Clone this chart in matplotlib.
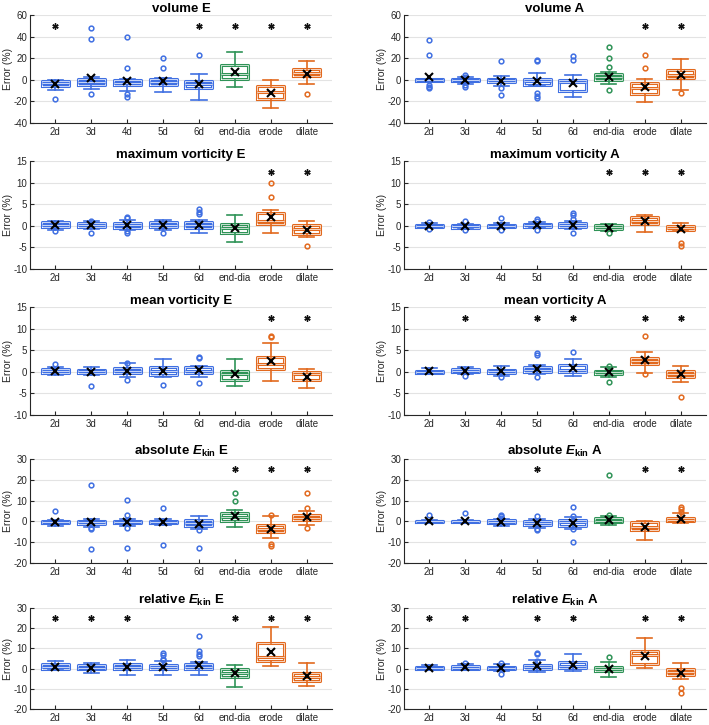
import matplotlib
matplotlib.use('Agg')
import matplotlib.pyplot as plt
import matplotlib.patheffects as pe

plt.rcParams['font.family'] = ['Liberation Sans', 'DejaVu Sans']
plt.rcParams['axes.unicode_minus'] = False
plt.rcParams['mathtext.fontset'] = 'custom'
plt.rcParams['mathtext.rm'] = 'Liberation Sans:bold'
plt.rcParams['mathtext.it'] = 'Liberation Sans:italic:bold'
plt.rcParams['mathtext.bf'] = 'Liberation Sans:bold'

cats = ['2d', '3d', '4d', '5d', '6d', 'end-dia', 'erode', 'dilate']
groups = ['b', 'b', 'b', 'b', 'b', 'g', 'o', 'o']

# each entry: (whisker low, q1, median, q3, whisker high, mean)
volE_stats = [(-9, -5.5, -2.8, -1, 0, -3.5), (-8.6, -4.6, -2.5, 0.6, 2.8, 1.5),
              (-10.7, -5, -3, -0.3, 1, -1), (-11.6, -4.9, -2.5, 0.6, 1.5, -1.5),
              (-18.4, -8, -3.5, -1, 5.2, -4), (-7, 1.2, 5.8, 13.8, 25.8, 7),
              (-26, -17.8, -11, -5.8, 0, -12), (-4.3, 3.4, 6.7, 9.8, 17, 5.5)]
volE_out = [[-17.5], [47.5, 37.5, -13.5], [40, 11, -13.5, -16], [20, 10.5], [22.5], [], [], [-13]]
volE_sig = [1, 0, 0, 0, 1, 1, 1, 1]

volA_stats = [(-2, -1, 0, 0.3, 0.8, 2.5), (-4, -1.5, -0.5, 0.5, 3, -0.5),
              (-6, -2.5, -0.5, 1.2, 3.5, -1), (-5.5, -5, -1.5, 1, 6, -1.5),
              (-16, -10, -2, -0.5, 4, -3), (-3.5, 0, 2.5, 5, 7.5, 3),
              (-21, -13, -7.5, -3, 1, -6.5), (-9.5, 1.5, 4.5, 9.5, 19.5, 4.5)]
volA_out = [[36.5, 22.5, -5, -7, -7.5], [4, 3, -5, -7], [17, -8, -14], [18, 17, -12, -15, -17],
            [22, 18], [30, 20, 12, -9], [23, 11], [-12]]
volA_sig = [0, 0, 0, 0, 0, 0, 1, 1]

maxvE_stats = [(-1, -0.2, 0.3, 0.8, 1.2, 0.2), (-0.8, -0.2, 0.2, 0.6, 1, 0.1),
               (-1, -0.4, 0.2, 0.7, 1.4, 0.1), (-1, -0.3, 0.3, 0.9, 1.4, 0.2),
               (-1.6, -0.5, 0.2, 0.8, 1.4, 0.2), (-3.7, -1.6, -0.5, 0.5, 2.5, -0.5),
               (-1.6, 0.5, 1.1, 2.9, 3.7, 2), (-2.5, -1.8, -0.8, 0.1, 1.1, -0.9)]
maxvE_out = [[-1.3], [1.2, -1.6], [2, 1.7, -1.3, -1.7], [-1.7], [3.8, 3.2, 2.7], [], [9.8, 6.6], [-4.7]]
maxvE_sig = [0, 0, 0, 0, 0, 0, 1, 1]

maxvA_stats = [(-0.4, -0.2, 0, 0.2, 0.6, 0), (-0.7, -0.4, -0.1, 0.1, 0.5, -0.1),
               (-0.5, -0.2, 0, 0.3, 0.6, 0), (-0.6, -0.3, 0.1, 0.4, 0.8, 0.1),
               (-0.8, -0.3, 0.2, 0.6, 1, 0.3), (-1.3, -0.8, -0.3, 0.2, 0.5, -0.4),
               (-1.4, 0.4, 1.2, 2, 2.6, 1.1), (-1.2, -1, -0.5, 0, 0.6, -0.7)]
maxvA_out = [[0.9, -0.7], [1, -0.9], [1.8, -1], [1.5, 1, -1], [2.9, 2.5, 1.6, -1.6], [-1.7], [], [-4, -4.6]]
maxvA_sig = [0, 0, 0, 0, 0, 1, 1, 1]

meanvE_stats = [(-0.8, -0.2, 0.2, 0.6, 1.1, 0.2), (-0.8, -0.3, 0.1, 0.4, 1.2, 0),
                (-1.2, -0.2, 0.3, 0.9, 2, 0.3), (-1.1, -0.7, 0.1, 1.2, 2.9, 0.2),
                (-1.3, -0.2, 0.3, 1.1, 1.3, 0.4), (-3.4, -1.8, -0.5, 0.3, 3, -0.5),
                (-2.2, 0.7, 1.7, 3.5, 6.7, 2.4), (-3.8, -2, -0.5, -0.1, 0.7, -1.2)]
meanvE_out = [[1.9], [-3.4], [2.1, -1.8], [-3.1], [3.4, 3.1, -2.7], [], [8.3, 8], []]
meanvE_sig = [0, 0, 0, 0, 0, 0, 1, 1]

meanvA_stats = [(-0.6, -0.3, 0, 0.3, 0.9, 0.1), (-0.5, 0, 0.3, 0.6, 1.2, 0.3),
                (-0.9, -0.3, 0.1, 0.4, 1.3, 0.1), (-0.6, 0, 0.5, 1, 1.6, 0.7),
                (-1, 0, 0.5, 1.5, 3, 0.9), (-1.2, -0.5, -0.1, 0.3, 1, -0.1),
                (-0.2, 1.8, 2.5, 3.3, 4.6, 2.7), (-2.4, -1.1, -0.4, 0.2, 1.4, -0.6)]
meanvA_out = [[], [-0.9], [-1.3], [4.3, 4, -1.1], [4.5], [1.3, -2.4], [8.4, -0.5], [-5.8]]
meanvA_sig = [0, 1, 0, 1, 1, 0, 1, 1]

absE_stats = [(-2, -1, -0.3, 0.3, 0.8, -0.2), (-2.5, -1.2, -0.5, 0.3, 1, -0.4),
              (-2, -1, -0.3, 0.3, 1, -0.3), (-1.8, -1, -0.4, 0.3, 1, -0.3),
              (-3.5, -2.2, -0.7, 0.5, 2.5, -1.4), (-2.5, 0.3, 2, 4, 5.5, 2.5),
              (-8, -5, -3.5, -1.8, 2.5, -3.8), (-1.5, 0.5, 1.5, 3, 5, 1.9)]
absE_out = [[5], [17.5, -3, -3.5, -13.5], [10.5, 3, -3, -13], [6.5, -11.5], [-4.2, -13],
            [13.7, 10], [3.2, -11, -11.8], [13.5, 6.5, -3.3]]
absE_sig = [0, 0, 0, 0, 0, 1, 1, 1]

absA_stats = [(-0.5, -0.3, 0, 0.2, 0.5, 0.1), (-0.6, -0.3, 0, 0.4, 0.8, 0.1),
              (-2, -0.8, -0.2, 0.6, 1.2, -0.1), (-3, -1.5, -0.6, 0, 1.2, -0.8),
              (-3.5, -2, -0.5, 0.5, 2, -0.6), (-1.7, -0.3, 0.4, 1.5, 2.6, 0.9),
              (-9, -4, -2.5, -0.5, 0.2, -2.9), (-0.8, 0, 0.8, 1.6, 4, 1)]
absA_out = [[3.3], [3.8], [3, 2.5, 1.8], [2.5, -3.5, -4.2], [7, 2.5, -3.8, -10], [22.5, 3.3], [], [7, 6, 4.5]]
absA_sig = [0, 0, 0, 1, 0, 0, 1, 1]

relE_stats = [(-0.5, 0, 1, 2.2, 4, 1), (-2, -0.3, 0.5, 1.8, 2.7, 0.5),
              (-3.2, 0, 1, 2.3, 4.5, 0.8), (-3, -0.3, 0.8, 2, 3.6, 0.7),
              (-3.2, 0, 1, 2.3, 3.5, 1.8), (-9, -4.2, -2, -0.3, 2, -2.2),
              (1.2, 3.8, 5.5, 12.5, 20.5, 8), (-8.8, -6, -4, -2, 2.6, -3.8)]
relE_out = [[], [], [], [7.7, 6.5, 5, 4.5], [16, 8.5, 7, 6], [], [], []]
relE_sig = [1, 1, 1, 0, 0, 1, 1, 1]

relA_stats = [(-0.8, -0.2, 0.3, 0.8, 1.8, 0.3), (-0.7, 0, 0.5, 1.2, 2.2, 0.6),
              (-1, -0.2, 0.4, 1, 2.3, 0.5), (-1.5, 0, 0.8, 2, 4.5, 1.3),
              (-1, 0.3, 1.3, 3.2, 7, 2), (-4.2, -1, 0, 1, 3.5, 0),
              (0.5, 2.5, 6.8, 8.5, 15, 6), (-5, -3, -1.5, 0, 3, -2)]
relA_out = [[], [2.8], [2.8, -2.5], [7.6, 7, 4], [], [5.7], [], [-9.8, -12.2]]
relA_sig = [1, 1, 0, 1, 1, 0, 1, 1]

titles = ['volume E', 'volume A', 'maximum vorticity E', 'maximum vorticity A',
          'mean vorticity E', 'mean vorticity A',
          r'absolute $\mathit{E}_{\mathbf{kin}}$ E', r'absolute $\mathit{E}_{\mathbf{kin}}$ A',
          r'relative $\mathit{E}_{\mathbf{kin}}$ E', r'relative $\mathit{E}_{\mathbf{kin}}$ A']
ylims = [(-40, 60), (-40, 60), (-10, 15), (-10, 15), (-10, 15), (-10, 15),
         (-20, 30), (-20, 30), (-20, 30), (-20, 30)]
ysteps = [20, 20, 5, 5, 5, 5, 10, 10, 10, 10]
sig_y = [50, 50, 12.5, 12.5, 12.5, 12.5, 25, 25, 25, 25]

panels = [(volE_stats, volE_out, volE_sig), (volA_stats, volA_out, volA_sig),
          (maxvE_stats, maxvE_out, maxvE_sig), (maxvA_stats, maxvA_out, maxvA_sig),
          (meanvE_stats, meanvE_out, meanvE_sig), (meanvA_stats, meanvA_out, meanvA_sig),
          (absE_stats, absE_out, absE_sig), (absA_stats, absA_out, absA_sig),
          (relE_stats, relE_out, relE_sig), (relA_stats, relA_out, relA_sig)]

colors = {'b': '#3f6fe2', 'g': '#2f9357', 'o': '#e2691e'}

W, H = 709, 725
fig = plt.figure(figsize=(W / 100, H / 100), dpi=100)

# pixel boxes of the axes rows (top, bottom) and columns (left)
rows_px = [(15, 123), (161, 269), (307, 415), (459, 563), (608, 709)]
cols_px = [30, 404]
ax_w = 302

for k, (stats, outs, sig) in enumerate(panels):
    r, c = divmod(k, 2)
    top, bot = rows_px[r]
    ax = fig.add_axes([cols_px[c] / W, (H - bot) / H, ax_w / W, (bot - top) / H])
    pos = list(range(1, len(cats) + 1))
    for i, (s, fl) in enumerate(zip(stats, outs)):
        col = colors[groups[i]]
        d = {'whislo': s[0], 'q1': s[1], 'med': s[2], 'q3': s[3], 'whishi': s[4],
             'mean': s[5], 'fliers': fl}
        stroke = [pe.withStroke(linewidth=2.2, foreground=col)]
        ax.bxp([d], positions=[pos[i]], widths=0.75, showmeans=True,
               boxprops=dict(color='white', linewidth=0.5, path_effects=stroke),
               medianprops=dict(color='white', linewidth=0.5, path_effects=stroke),
               whiskerprops=dict(color=col, linewidth=1.2),
               capprops=dict(color=col, linewidth=1.2),
               capwidths=0.42,
               flierprops=dict(marker='o', markerfacecolor='none', markeredgecolor=col,
                               markersize=3.4, markeredgewidth=1.1),
               meanprops=dict(marker='x', markeredgecolor='black', markersize=6,
                              markeredgewidth=1.5))
        if sig[i]:
            ax.plot(pos[i], sig_y[k], marker=(6, 2, 0), color='#111111',
                    markersize=4.5, markeredgewidth=1.0, linestyle='none')
    ax.set_xlim(0.3, 8.7)
    ax.set_ylim(*ylims[k])
    lo, hi = ylims[k]
    ax.set_yticks(range(lo, hi + 1, ysteps[k]))
    ax.set_xticks(pos)
    ax.set_xticklabels(cats)
    ax.yaxis.grid(True, color='#e3e3e3', linewidth=0.8)
    ax.set_axisbelow(True)
    for sp in ['top', 'right']:
        ax.spines[sp].set_visible(False)
    for sp in ['left', 'bottom']:
        ax.spines[sp].set_color('#262626')
        ax.spines[sp].set_linewidth(0.8)
    ax.tick_params(direction='in', length=3, labelsize=7, colors='#262626', pad=2)
    ax.tick_params(axis='x', pad=3)
    ax.set_ylabel('Error (%)', fontsize=7.5, color='#262626', labelpad=0)
    ax.set_title(titles[k], fontsize=9.5, fontweight='bold', pad=1.5)

fig.savefig('out.png', dpi=100)
